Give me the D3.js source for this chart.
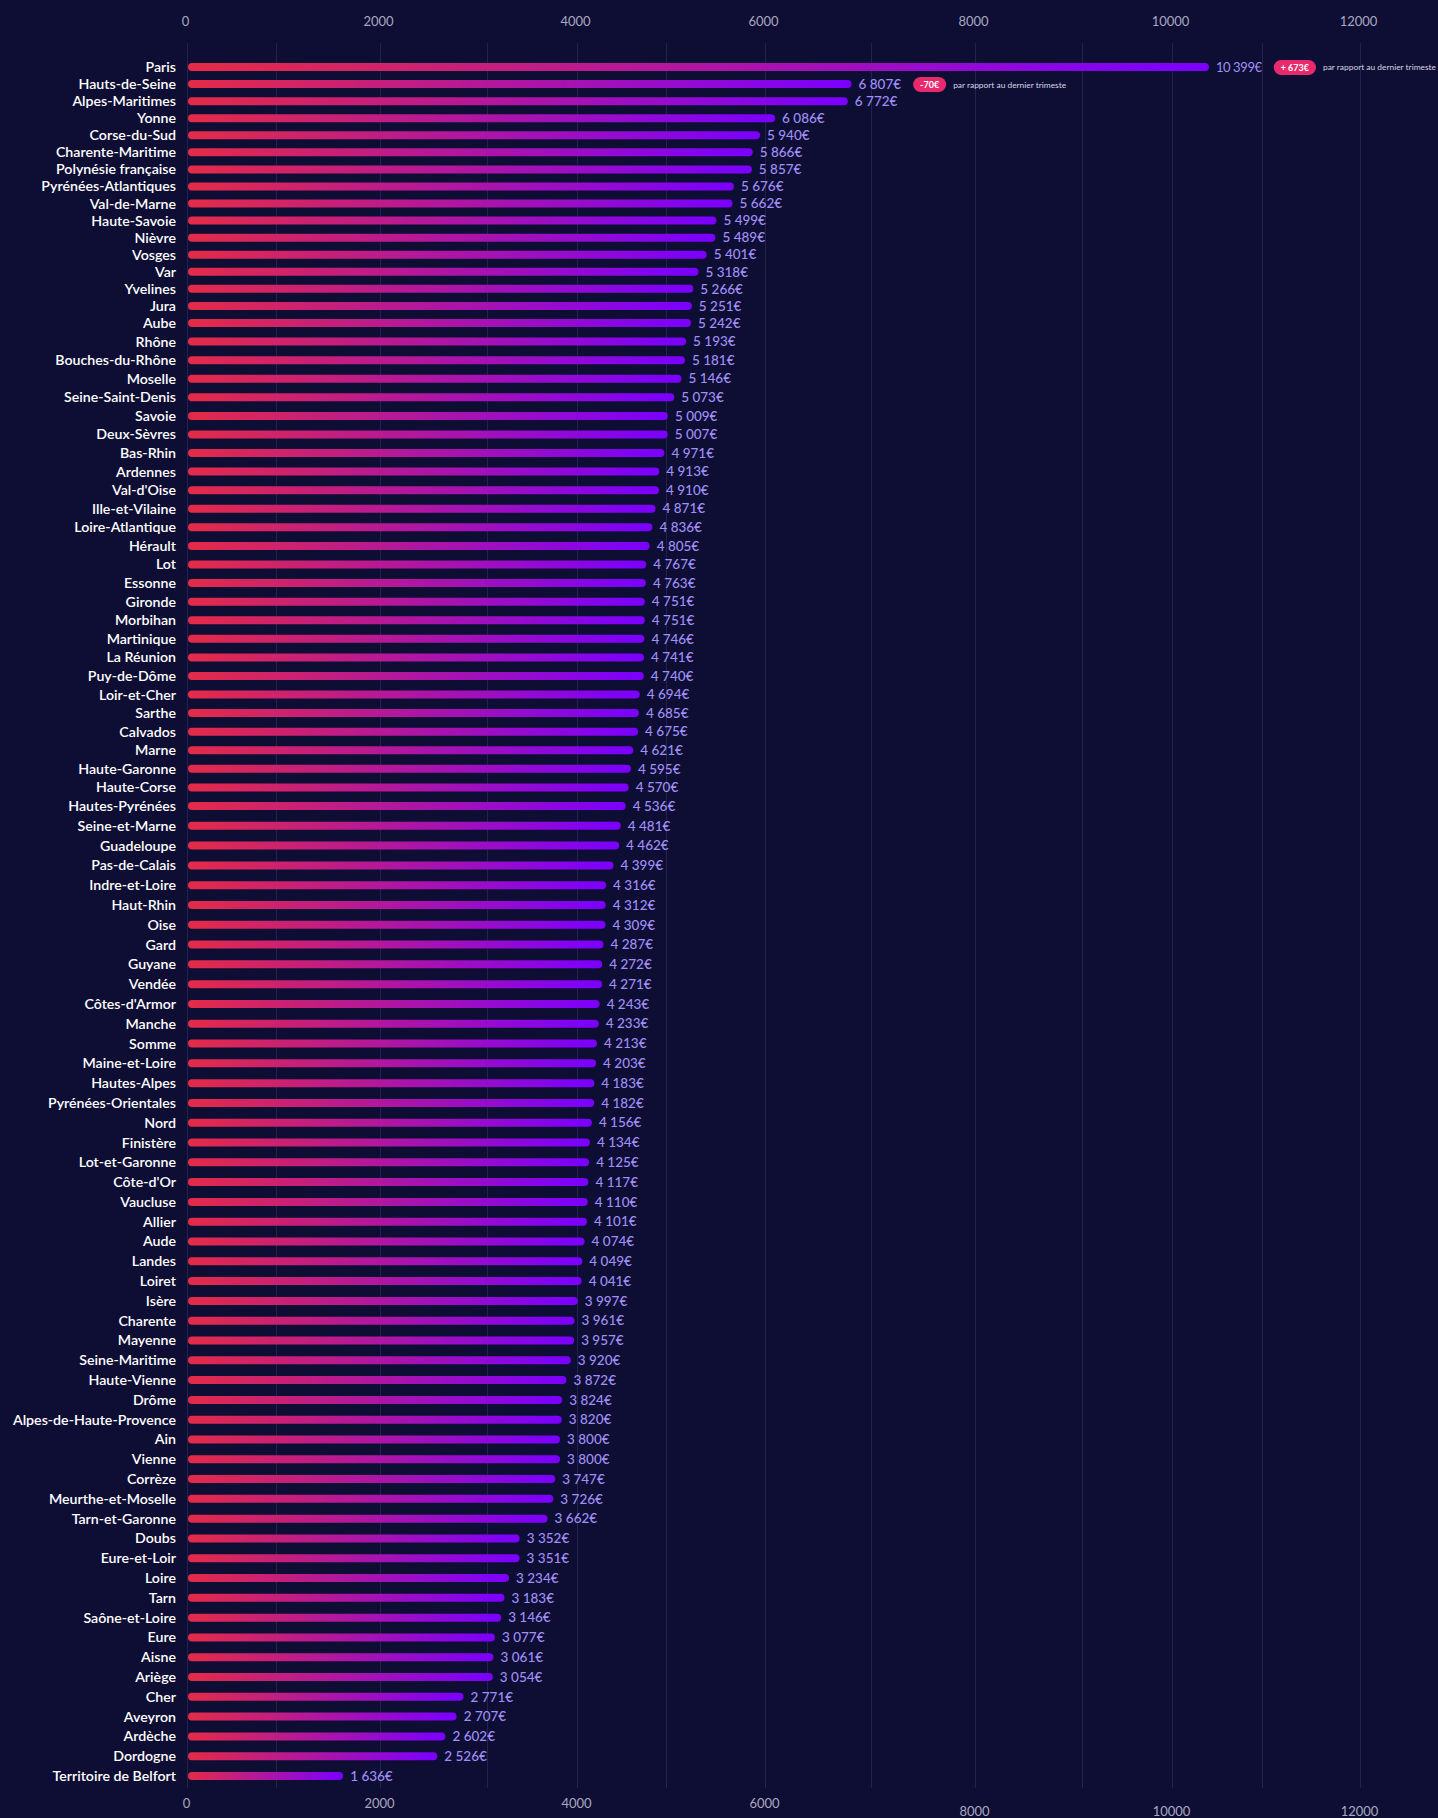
<!DOCTYPE html>
<html>
<head>
<meta charset="utf-8">
<script src="https://cdn.jsdelivr.net/npm/d3@7"></script>
<style>
  html, body { margin: 0; padding: 0; background: #0e0d34; }
  svg { display: block; }
</style>
</head>
<body>
<svg id="chart" width="1438" height="1818"></svg>
<script>
const categories = ["Paris","Hauts-de-Seine","Alpes-Maritimes","Yonne","Corse-du-Sud","Charente-Maritime","Polynésie française","Pyrénées-Atlantiques","Val-de-Marne","Haute-Savoie","Nièvre","Vosges","Var","Yvelines","Jura","Aube","Rhône","Bouches-du-Rhône","Moselle","Seine-Saint-Denis","Savoie","Deux-Sèvres","Bas-Rhin","Ardennes","Val-d'Oise","Ille-et-Vilaine","Loire-Atlantique","Hérault","Lot","Essonne","Gironde","Morbihan","Martinique","La Réunion","Puy-de-Dôme","Loir-et-Cher","Sarthe","Calvados","Marne","Haute-Garonne","Haute-Corse","Hautes-Pyrénées","Seine-et-Marne","Guadeloupe","Pas-de-Calais","Indre-et-Loire","Haut-Rhin","Oise","Gard","Guyane","Vendée","Côtes-d'Armor","Manche","Somme","Maine-et-Loire","Hautes-Alpes","Pyrénées-Orientales","Nord","Finistère","Lot-et-Garonne","Côte-d'Or","Vaucluse","Allier","Aude","Landes","Loiret","Isère","Charente","Mayenne","Seine-Maritime","Haute-Vienne","Drôme","Alpes-de-Haute-Provence","Ain","Vienne","Corrèze","Meurthe-et-Moselle","Tarn-et-Garonne","Doubs","Eure-et-Loir","Loire","Tarn","Saône-et-Loire","Eure","Aisne","Ariège","Cher","Aveyron","Ardèche","Dordogne","Territoire de Belfort"];
const values = [10399,6807,6772,6086,5940,5866,5857,5676,5662,5499,5489,5401,5318,5266,5251,5242,5193,5181,5146,5073,5009,5007,4971,4913,4910,4871,4836,4805,4767,4763,4751,4751,4746,4741,4740,4694,4685,4675,4621,4595,4570,4536,4481,4462,4399,4316,4312,4309,4287,4272,4271,4243,4233,4213,4203,4183,4182,4156,4134,4125,4117,4110,4101,4074,4049,4041,3997,3961,3957,3920,3872,3824,3820,3800,3800,3747,3726,3662,3352,3351,3234,3183,3146,3077,3061,3054,2771,2707,2602,2526,1636];
const tickValues = [0,2000,4000,6000,8000,10000,12000];
const gridValues = [0,1000,2000,3000,4000,5000,6000,7000,8000,9000,10000,11000,12000];
const badgeCategories = ["Paris","Hauts-de-Seine"];
const badgeTexts = ["+ 673€","-70€"];
const badgeNote = "par rapport au dernier trimeste";

const svg = d3.select("#chart");
const W = 1438, H = 1818;
svg.append("rect").attr("width", W).attr("height", H).attr("fill", "#0e0d34");

// the picture's value axis is piecewise: each 1000 step has its own width
const x = d3.scaleLinear().domain(gridValues)
  .range([188, 277, 381, 488, 578, 667, 766, 872, 976, 1083, 1173, 1263, 1361]);
// row positions as drawn in the picture (row spacing grows down the chart)
const rowIndex = d3.scaleLinear().domain([0, 15, 41, 90]).range([67, 323, 806, 1776]);
const y = c => rowIndex(categories.indexOf(c));

const fr = d3.formatLocale({decimal: ",", thousands: "\u2009", grouping: [3], currency: ["", "€"]});
const fmt = v => fr.format(",")(v).replace("\u2009", " ") + "€";

const FONT = "Lato, 'Noto Sans', sans-serif";

// gradient
const defs = svg.append("defs");
const grad = defs.append("linearGradient").attr("id", "barGrad")
  .attr("x1", "0%").attr("x2", "100%").attr("y1", "0%").attr("y2", "0%");
grad.append("stop").attr("offset", "0%").attr("stop-color", "#e42b47");
grad.append("stop").attr("offset", "100%").attr("stop-color", "#7a00ff");

// grid
svg.append("g").selectAll("line").data(gridValues).join("line")
  .attr("x1", d => x(d) - 0.5).attr("x2", d => x(d) - 0.5)
  .attr("y1", 43).attr("y2", 1788)
  .attr("stroke", "#22224f").attr("stroke-width", 1);

// top axis
const topAxis = svg.append("g").attr("transform", "translate(-3,26)")
  .call(d3.axisTop(x).tickValues(tickValues).tickSize(0).tickPadding(0).tickFormat(d3.format("d")));
topAxis.select(".domain").remove();
topAxis.selectAll("text").attr("fill", "#a9a8c0").attr("font-size", 13).attr("font-family", FONT);

// bottom axis
const botAxis = svg.append("g").attr("transform", "translate(-2,1799)")
  .call(d3.axisBottom(x).tickValues(tickValues).tickSize(0).tickPadding(0).tickFormat(d3.format("d")));
botAxis.select(".domain").remove();
botAxis.selectAll("text").attr("fill", "#a9a8c0").attr("font-size", 13).attr("font-family", FONT)
  .attr("dy", d => d >= 8000 ? "1.3em" : "0.71em");

// category labels
svg.append("g").selectAll("text").data(categories).join("text")
  .attr("x", 176).attr("y", d => y(d)).attr("dy", "0.35em")
  .attr("text-anchor", "end").attr("fill", "#ffffff")
  .attr("font-family", FONT).attr("font-size", 14.2).attr("font-weight", 600)
  .text(d => d);

// bars
const BH = 8;
svg.append("g").selectAll("rect").data(categories).join("rect")
  .attr("x", x(0)).attr("y", d => y(d) - BH / 2)
  .attr("width", (d, i) => x(values[i]) - x(0)).attr("height", BH)
  .attr("rx", BH / 2).attr("fill", "url(#barGrad)");

// value labels
const vl = svg.append("g").selectAll("text").data(categories).join("text")
  .attr("x", (d, i) => x(values[i]) + 7).attr("y", d => y(d)).attr("dy", "0.35em")
  .attr("fill", "#a08ff6").attr("font-family", FONT)
  .attr("font-size", (d, i) => i === 0 ? 13 : 13.5)
  .attr("letter-spacing", (d, i) => i === 0 ? -0.4 : 0)
  .attr("font-weight", (d, i) => i === 0 ? 400 : 500)
  .text((d, i) => fmt(values[i]));

// badges
const vlNodes = vl.nodes();
badgeCategories.forEach((c, k) => {
  const i = categories.indexOf(c);
  const node = vlNodes[i];
  const endX = x(values[i]) + 7 + node.getComputedTextLength();
  const g = svg.append("g").attr("transform", `translate(${endX + 12},${y(c) + 0.5})`);
  const t = g.append("text").attr("fill", "#ffffff").attr("font-family", FONT)
    .attr("font-size", 9).attr("font-weight", 700).attr("dy", "0.35em").text(badgeTexts[k]);
  const tw = t.node().getComputedTextLength();
  const pw = tw + 14;
  g.insert("rect", "text").attr("x", 0).attr("y", -7.5).attr("width", pw).attr("height", 15)
    .attr("rx", 7.5).attr("fill", "#e8296c");
  t.attr("x", pw / 2).attr("text-anchor", "middle");
  g.append("text").attr("x", pw + 7).attr("dy", "0.35em").attr("fill", "#d8d7e6")
    .attr("font-family", FONT).attr("font-size", 8.4).text(badgeNote);
});
</script>
</body>
</html>
